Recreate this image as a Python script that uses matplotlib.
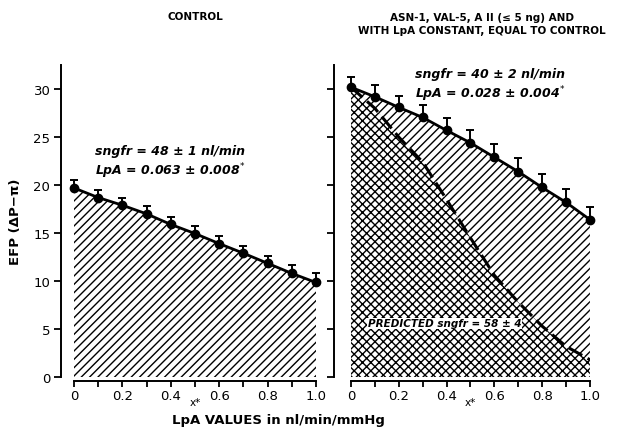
import numpy as np
import matplotlib.pyplot as plt

plt.rcParams['font.family'] = ['DejaVu Sans']
plt.rcParams['hatch.linewidth'] = 1.0

# x* positions along the capillary
x_star = [0, 0.1, 0.2, 0.3, 0.4, 0.5, 0.6, 0.7, 0.8, 0.9, 1.0]

# control panel: EFP and upper SE
efp_control = [19.7, 18.7, 17.9, 17.0, 15.9, 14.95, 13.9, 12.9, 11.85, 10.8, 9.85]
err_control = [0.8, 0.8, 0.8, 0.8, 0.8, 0.8, 0.8, 0.8, 0.8, 0.9, 1.0]

# angiotensin panel: measured EFP, upper SE, and predicted EFP with LpA = control
efp_ang = [30.2, 29.2, 28.1, 27.05, 25.7, 24.4, 22.9, 21.4, 19.75, 18.2, 16.4]
err_ang = [1.1, 1.2, 1.2, 1.3, 1.3, 1.3, 1.4, 1.4, 1.4, 1.4, 1.3]
efp_pred = [30.2, 28.0, 25.0, 22.4, 18.5, 14.5, 10.6, 7.8, 5.3, 3.2, 1.8]

xticks = [0, 0.1, 0.2, 0.3, 0.4, 0.5, 0.6, 0.7, 0.8, 0.9, 1.0]
xticklabels = ['0', '', '0.2', '', '0.4', '', '0.6', '', '0.8', '', '1.0']
yticks = [0, 5, 10, 15, 20, 25, 30]

fig = plt.figure(figsize=(6.19, 4.35), dpi=100)
ax1 = fig.add_axes([0.1195, 0.131, 0.391, 0.717])
ax2 = fig.add_axes([0.567, 0.131, 0.386, 0.717])


def style(ax, ylabels, yoff):
    ax.set_xlim(0, 1.0)
    ax.set_ylim(0, 32.5)
    for s in ['top', 'right']:
        ax.spines[s].set_visible(False)
    ax.spines['left'].set_position(('outward', yoff))
    ax.spines['bottom'].set_position(('outward', 3))
    ax.spines['left'].set_linewidth(1.4)
    ax.spines['bottom'].set_linewidth(1.4)
    ax.set_xticks(xticks)
    ax.set_xticklabels(xticklabels)
    ax.set_yticks(yticks)
    if ylabels:
        ax.set_yticklabels([str(v) for v in yticks])
    else:
        ax.set_yticklabels([])
    ax.tick_params(direction='out', length=5, width=1.3, labelsize=9.5, pad=3)
    ax.tick_params(axis='x', length=4.5, pad=1)
    ax.text(0.5, -0.08, 'x*', transform=ax.transAxes, ha='center', va='center', fontsize=7.5)


# control
ax1.fill_between(x_star, 0, efp_control, facecolor='white', edgecolor='black',
                 hatch='////', linewidth=0)
ax1.plot(x_star, efp_control, color='black', lw=2, marker='o', ms=6, clip_on=False, zorder=4)
ax1.errorbar(x_star, efp_control, yerr=[np.zeros(len(err_control)), err_control],
             fmt='none', ecolor='black', elinewidth=1.4, capsize=3, capthick=1.4,
             clip_on=False, zorder=4)
style(ax1, True, 9)
ax1.text(0.087, 23.6, 'sngfr = 48 ± 1 nl/min', fontsize=9, style='italic',
         fontweight='bold', va='center')
ax1.text(0.087, 21.5, 'LpA = 0.063 ± 0.008$^{*}$', fontsize=9, style='italic',
         fontweight='bold', va='center')

# angiotensin II
ax2.fill_between(x_star, efp_pred, efp_ang, facecolor='white', edgecolor='black',
                 hatch='////', linewidth=0)
ax2.fill_between(x_star, 0, efp_pred, facecolor='white', edgecolor='black',
                 hatch='xxxx', linewidth=0)
ax2.plot(x_star, efp_pred, color='black', lw=2.2, ls=(0, (5, 2)), zorder=3)
ax2.plot(x_star, efp_ang, color='black', lw=2, marker='o', ms=6, clip_on=False, zorder=4)
ax2.errorbar(x_star, efp_ang, yerr=[np.zeros(len(err_ang)), err_ang],
             fmt='none', ecolor='black', elinewidth=1.4, capsize=3, capthick=1.4,
             clip_on=False, zorder=4)
style(ax2, False, 12)
ax2.text(0.27, 31.6, 'sngfr = 40 ± 2 nl/min', fontsize=9, style='italic',
         fontweight='bold', va='center')
ax2.text(0.27, 29.6, 'LpA = 0.028 ± 0.004$^{*}$', fontsize=9, style='italic',
         fontweight='bold', va='center')
ax2.text(0.07, 5.6, 'PREDICTED sngfr = 58 ± 4', fontsize=7.5, style='italic',
         fontweight='bold', va='center', zorder=5,
         bbox=dict(facecolor='white', edgecolor='none', pad=0.5))

fig.text(0.315, 0.962, 'CONTROL', ha='center', va='center', fontsize=7.5, fontweight='bold')
fig.text(0.778, 0.944, 'ASN-1, VAL-5, A II (≤ 5 ng) AND\nWITH LpA CONSTANT, EQUAL TO CONTROL',
         ha='center', va='center', fontsize=7.5, fontweight='bold', linespacing=1.35)
fig.text(0.45, 0.034, 'LpA VALUES in nl/min/mmHg', ha='center', va='center',
         fontsize=9.5, fontweight='bold')
fig.text(0.025, 0.49, 'EFP (ΔP−π)', ha='center', va='center', rotation=90,
         fontsize=9.5, fontweight='bold')

fig.savefig('out.png', dpi=100)
